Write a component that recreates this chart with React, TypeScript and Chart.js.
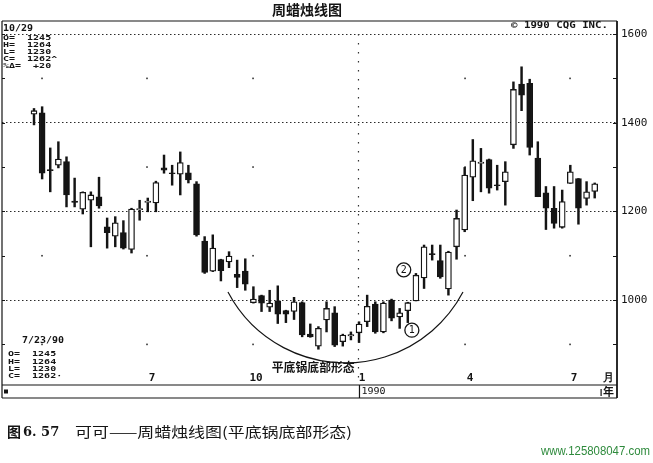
import { useEffect, useRef } from 'react';
import { Chart, registerables } from 'chart.js';
Chart.register(...registerables);

// ---- data (weekly cocoa candles, 3/1989 .. 7/23/1990) ----
const opens = [1419,1422,1294,1304,1312,1223,1205,1225,1233,1165,1144,1152,1114,1204,1220,1219,1298,1287,1284,1287,1262,1133,1065,1091,1086,1058,1065,994,1010,984,998,976,974,994,923,896,955,971,906,919,926,951,991,928,1000,962,976,998,1050,1105,1089,1025,1120,1158,1277,1308,1317,1260,1267,1350,1487,1489,1320,1242,1207,1164,1263,1274,1229,1245];
const highs = [1432,1436,1343,1357,1323,1275,1244,1244,1277,1185,1188,1179,1207,1225,1230,1268,1327,1304,1334,1304,1267,1143,1147,1092,1109,1090,1093,1030,1011,1022,1032,977,1006,996,946,940,996,985,923,928,951,1011,996,996,1002,981,995,1060,1124,1124,1124,1110,1203,1299,1362,1342,1318,1304,1312,1492,1526,1498,1357,1256,1256,1248,1304,1274,1267,1264];
const lows = [1395,1273,1244,1298,1210,1210,1194,1120,1207,1117,1120,1115,1106,1180,1199,1199,1286,1259,1237,1264,1144,1060,1064,1043,1073,1028,1022,993,974,974,947,949,956,917,916,889,928,895,896,910,904,940,925,926,953,936,949,998,1026,1090,1049,1011,1092,1154,1224,1244,1241,1248,1214,1342,1427,1327,1233,1159,1162,1162,1263,1171,1214,1230];
const closes = [1427,1286,1292,1318,1237,1220,1243,1237,1212,1152,1174,1117,1205,1206,1223,1265,1293,1285,1310,1271,1147,1062,1117,1066,1099,1051,1036,1002,993,993,968,968,996,921,917,936,981,898,921,922,946,986,928,993,959,971,994,1056,1120,1102,1052,1108,1184,1282,1314,1311,1252,1258,1289,1475,1462,1344,1233,1207,1173,1222,1289,1207,1244,1262];

const priceTicks = [1000, 1200, 1400, 1600];
const axisTickPrices = [900, 1000, 1100, 1200, 1300, 1400, 1500, 1600];
const dotPrices = [900, 1100, 1300, 1500];
const quarterIdx = [0.98, 13.9, 26.95, 53.04, 65.96];
const yearIdx = 39.93;
const monthTickIdx = [14.52, 27.32, 40.37, 53.66, 66.46, 70.75];
const monthLabels = ['7', '10', '1', '4', '7', '月'];
const headerDate = '10/29';
const headerChange = '+20';
const lastDate = '7/23/90';
const yearLabel = '1990';
const bowlAnchors = [
  { x: 23.87, y: 1018 },
  { x: 39.63, y: 859 },
  { x: 52.79, y: 1018 },
];
const markers = [
  { text: '1', x: 46.5, y: 932 },
  { text: '2', x: 45.5, y: 1068 },
];
const bowlLabel = { text: '平底锅底部形态', x: 34.3, y: 847 };

const X_MIN = -3.938;
const X_MAX = 71.744;
const Y_MIN = 844.4;
const Y_MAX = 1600;

const INK = '#141414';
const MONO = '"DejaVu Sans Mono", monospace';
const CJK = '"Noto Sans CJK SC", sans-serif';

function fitText(ctx: CanvasRenderingContext2D, s: string, x: number, y: number, w: number, font: string, color = INK, sy = 1) {
  ctx.save();
  ctx.font = font;
  ctx.fillStyle = color;
  ctx.textBaseline = 'middle';
  ctx.textAlign = 'left';
  const m = ctx.measureText(s).width || 1;
  ctx.translate(x, y);
  ctx.scale(w / m, sy);
  ctx.fillText(s, 0, 0);
  ctx.restore();
}

function txt(ctx: CanvasRenderingContext2D, s: string, x: number, y: number, font: string, sy = 1, align: CanvasTextAlign = 'left', color = INK) {
  ctx.save();
  ctx.font = font;
  ctx.fillStyle = color;
  ctx.textBaseline = 'middle';
  ctx.textAlign = align;
  ctx.translate(x, y);
  ctx.scale(1, sy);
  ctx.fillText(s, 0, 0);
  ctx.restore();
}

const decor = {
  id: 'decor',
  beforeDraw(chart: any) {
    const { ctx, width, height } = chart;
    ctx.save();
    ctx.fillStyle = '#fff';
    ctx.fillRect(0, 0, width, height);
    ctx.restore();
  },
  beforeDatasetsDraw(chart: any) {
    const { ctx, chartArea } = chart;
    const xs = chart.scales.x;
    const ys = chart.scales.y;
    ctx.save();
    ctx.fillStyle = '#333';
    for (const q of quarterIdx) {
      const px = xs.getPixelForValue(q);
      for (const p of dotPrices) {
        const py = ys.getPixelForValue(p);
        ctx.fillRect(px - 0.75, py - 0.75, 1.6, 1.6);
      }
    }
    // 1990 boundary dotted line
    const yx = xs.getPixelForValue(yearIdx);
    ctx.strokeStyle = '#333';
    ctx.lineWidth = 1.2;
    ctx.setLineDash([1.5, 7.5]);
    ctx.beginPath();
    ctx.moveTo(yx, chartArea.top);
    ctx.lineTo(yx, xs.bottom);
    ctx.stroke();
    ctx.setLineDash([]);
    // bowl arc
    const pts = bowlAnchors.map((a) => ({ x: xs.getPixelForValue(a.x), y: ys.getPixelForValue(a.y) }));
    const [A, B, C] = pts;
    const d = 2 * (A.x * (B.y - C.y) + B.x * (C.y - A.y) + C.x * (A.y - B.y));
    const ux = ((A.x ** 2 + A.y ** 2) * (B.y - C.y) + (B.x ** 2 + B.y ** 2) * (C.y - A.y) + (C.x ** 2 + C.y ** 2) * (A.y - B.y)) / d;
    const uy = ((A.x ** 2 + A.y ** 2) * (C.x - B.x) + (B.x ** 2 + B.y ** 2) * (A.x - C.x) + (C.x ** 2 + C.y ** 2) * (B.x - A.x)) / d;
    const r = Math.hypot(A.x - ux, A.y - uy);
    const a1 = Math.atan2(A.y - uy, A.x - ux);
    const a3 = Math.atan2(C.y - uy, C.x - ux);
    ctx.strokeStyle = INK;
    ctx.lineWidth = 1.2;
    ctx.beginPath();
    ctx.arc(ux, uy, r, a3, a1, false);
    ctx.stroke();
    ctx.restore();
  },
  afterDraw(chart: any) {
    const { ctx, chartArea } = chart;
    const xs = chart.scales.x;
    const ys = chart.scales.y;
    const L = chartArea.left;
    const R = chartArea.right;
    const top = 21;
    const sep = xs.bottom;
    const bot = sep + 13;
    ctx.save();
    ctx.strokeStyle = INK;
    ctx.lineWidth = 1.2;
    ctx.beginPath();
    ctx.moveTo(L, top); ctx.lineTo(R, top);
    ctx.moveTo(L, top); ctx.lineTo(L, bot);
    ctx.moveTo(L, sep); ctx.lineTo(R, sep);
    ctx.moveTo(L, bot); ctx.lineTo(R, bot);
    const yx = xs.getPixelForValue(yearIdx) + 1;
    ctx.moveTo(yx, sep); ctx.lineTo(yx, bot);
    ctx.stroke();
    ctx.lineWidth = 1.8;
    ctx.beginPath();
    ctx.moveTo(R, top); ctx.lineTo(R, bot);
    ctx.stroke();
    // inward axis ticks
    ctx.lineWidth = 1;
    ctx.beginPath();
    for (const p of axisTickPrices) {
      const py = Math.round(ys.getPixelForValue(p)) + 0.5;
      ctx.moveTo(R, py); ctx.lineTo(R - 4, py);
      ctx.moveTo(L, py); ctx.lineTo(L + 3, py);
    }
    ctx.stroke();

    // title
    fitText(ctx, '周蜡烛线图', 272, 10, 70, `bold 14px ${CJK}`);
    // header row
    txt(ctx, headerDate, 3, 28.5, `bold 10px ${MONO}`, 0.8);
    fitText(ctx, '© 1990 CQG INC.', 511, 26, 97, `bold 10px ${MONO}`, INK, 0.8);
    const n = opens.length - 1;
    const hdr = [
      `O=  ${opens[n]}`,
      `H=  ${highs[n]}`,
      `L=  ${lows[n]}`,
      `C=  ${closes[n]}^`,
      `%Δ=  ${headerChange}`,
    ];
    hdr.forEach((s, i) => txt(ctx, s, 3, 38.5 + i * 6.8, `bold 10px ${MONO}`, 0.7));
    // bottom-left block
    txt(ctx, lastDate, 22, 341, `bold 10px ${MONO}`, 0.8);
    const blk = [`O=  ${opens[n]}`, `H=  ${highs[n]}`, `L=  ${lows[n]}`, `C=  ${closes[n]}·`];
    blk.forEach((s, i) => txt(ctx, s, 8, 354.5 + i * 7.3, `bold 10px ${MONO}`, 0.75));

    // markers
    for (const m of markers) {
      const px = xs.getPixelForValue(m.x);
      const py = ys.getPixelForValue(m.y);
      ctx.fillStyle = '#fff';
      ctx.beginPath();
      ctx.arc(px, py, 7, 0, Math.PI * 2);
      ctx.fill();
      ctx.lineWidth = 1.3;
      ctx.stroke();
      txt(ctx, m.text, px, py + 0.5, `10px ${MONO}`, 1, 'center');
    }
    // bowl label
    {
      const px = xs.getPixelForValue(bowlLabel.x);
      const py = ys.getPixelForValue(bowlLabel.y);
      fitText(ctx, bowlLabel.text, px - 41, py, 83, `bold 12px ${CJK}`);
    }
    // bottom year row
    ctx.fillStyle = INK;
    ctx.fillRect(4, sep + 4.5, 4, 4);
    txt(ctx, yearLabel, yx + 2, sep + 6.8, `10px ${MONO}`, 0.9);
    ctx.fillRect(600.5, sep + 4, 1.2, 7);
    txt(ctx, '年', 603, sep + 6.5, `bold 11px ${CJK}`);

    // caption
    txt(ctx, '图', 7, 432, `bold 14px ${CJK}`);
    txt(ctx, '6. 57', 23, 432.5, `bold 13px "DejaVu Serif", serif`);
    fitText(ctx, '可可——周蜡烛线图(平底锅底部形态)', 75, 432, 277, `14px ${CJK}`);
    // watermark
    fitText(ctx, 'www.125808047.com', 541, 452, 109, `12px "Liberation Sans", sans-serif`, '#2e8a3c');
    ctx.restore();
  },
};

export default function App() {
  const ref = useRef<HTMLCanvasElement>(null);
  useEffect(() => {
    document.body.style.margin = '0';
    const bodyData = opens.map((o, i) => ({ x: i, y: [o, closes[i]] }));
    const wickData = lows.map((l, i) => ({ x: i, y: [l, highs[i]] }));
    const bodyFill = opens.map((o, i) => (closes[i] >= o ? '#ffffff' : INK));
    const chart = new Chart(ref.current as HTMLCanvasElement, {
      type: 'bar',
      data: {
        datasets: [
          {
            label: 'body',
            data: bodyData as any,
            backgroundColor: bodyFill,
            borderColor: INK,
            borderWidth: 1.3,
            borderSkipped: false,
            barThickness: 6,
            grouped: false,
            order: 0,
          } as any,
          {
            label: 'wick',
            data: wickData as any,
            backgroundColor: INK,
            borderWidth: 0,
            barThickness: 1.8,
            grouped: false,
            order: 1,
          } as any,
        ],
      },
      options: {
        responsive: false,
        animation: false,
        layout: { padding: { left: 2, top: 34, right: 0, bottom: 78 } },
        plugins: { legend: { display: false }, tooltip: { enabled: false } },
        scales: {
          x: {
            type: 'linear',
            min: X_MIN,
            max: X_MAX,
            offset: false,
            grid: { display: false, drawTicks: false },
            border: { display: false },
            afterBuildTicks: (s: any) => {
              s.ticks = monthTickIdx.map((v) => ({ value: v }));
            },
            afterFit: (s: any) => {
              s.height = 16;
            },
            ticks: {
              autoSkip: false,
              maxRotation: 0,
              padding: 3,
              color: INK,
              font: { family: 'DejaVu Sans Mono', size: 11, weight: 'bold' },
              callback: (_v: any, i: number) => monthLabels[i],
            },
          } as any,
          y: {
            type: 'linear',
            position: 'right',
            min: Y_MIN,
            max: Y_MAX,
            afterBuildTicks: (s: any) => {
              s.ticks = priceTicks.map((v) => ({ value: v }));
            },
            afterFit: (s: any) => {
              s.width = 36;
            },
            grid: { color: '#2a2a2a', lineWidth: 1, drawTicks: false },
            border: { display: false, dash: [1.5, 2.5] },
            ticks: {
              padding: 4,
              color: INK,
              font: { family: 'DejaVu Sans Mono', size: 11 },
              callback: (v: any) => String(v),
            },
          } as any,
        },
      },
      plugins: [decor],
    });
    return () => chart.destroy();
  }, []);
  return (
    <div style={{ width: 653, height: 463, background: '#fff' }}>
      <canvas ref={ref} width={653} height={463} style={{ display: 'block' }} />
    </div>
  );
}
